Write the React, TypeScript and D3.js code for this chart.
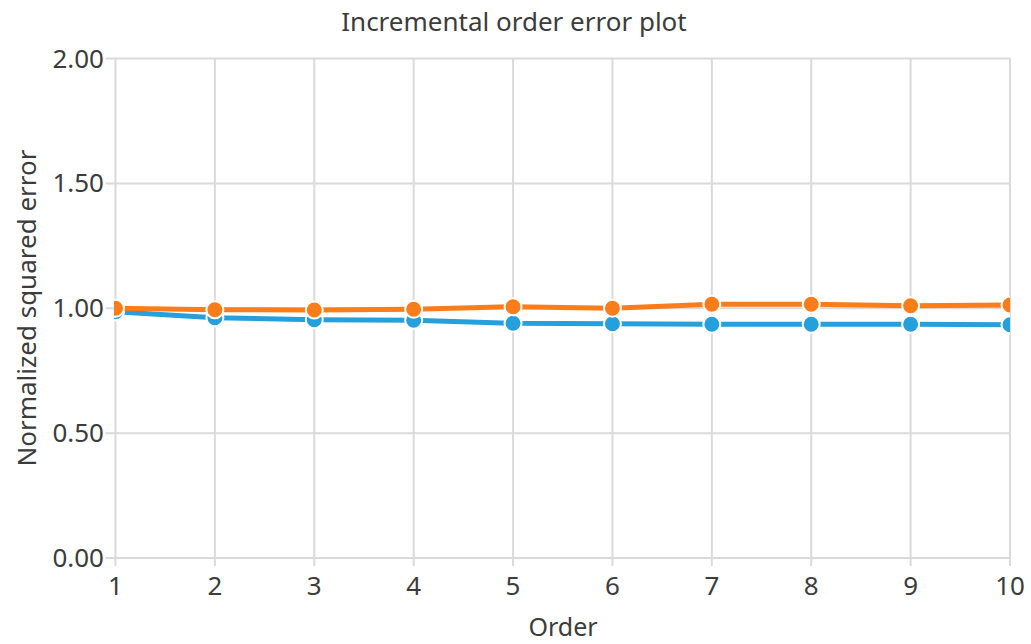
import React from "react";
import * as d3 from "d3";

// Error per model order for the two series
const orders = [1, 2, 3, 4, 5, 6, 7, 8, 9, 10];
const blueErrors = [0.986, 0.962, 0.954, 0.952, 0.94, 0.938, 0.936, 0.936, 0.936, 0.934];
const orangeErrors = [1.0, 0.994, 0.993, 0.996, 1.006, 1.0, 1.016, 1.016, 1.01, 1.013];
const yTicks = [0, 0.5, 1, 1.5, 2];

const W = 1031;
const H = 644;
const FONT = "'Noto Sans', 'Open Sans', sans-serif";
const TEXT = "#3c3c3c";
const GRID = "#dadada";

const m = { left: 115.5, right: 1010, top: 58.5, bottom: 558 };

export default function App() {
  const x = d3.scaleLinear().domain([1, 10]).range([m.left, m.right]);
  const y = d3.scaleLinear().domain([0, 2]).range([m.bottom, m.top]);

  const line = d3
    .line<number>()
    .x((_, i) => x(orders[i]))
    .y((d) => y(d));

  const series = [
    { values: blueErrors, color: "#25a0dc" },
    { values: orangeErrors, color: "#fa7d1a" },
  ];

  return (
    <svg
      width={W}
      height={H}
      style={{ position: "absolute", left: 0, top: 0, background: "#fff" }}
    >
      <defs>
        <clipPath id="plot-clip">
          <rect x={m.left - 1.5} y={m.top - 10} width={m.right - m.left + 1.5} height={m.bottom - m.top + 20} />
        </clipPath>
      </defs>

      <text
        x={514}
        y={31}
        textAnchor="middle"
        fontFamily={FONT}
        fontSize={26}
        fill={TEXT}
      >
        Incremental order error plot
      </text>

      {/* grid and ticks */}
      <g stroke={GRID} strokeWidth={2}>
        {yTicks.map((t) => (
          <line key={"gy" + t} x1={m.left - 10} x2={m.right} y1={y(t)} y2={y(t)} />
        ))}
        {orders.map((o) => (
          <line key={"gx" + o} x1={x(o)} x2={x(o)} y1={m.top} y2={m.bottom + 8} />
        ))}
      </g>

      {/* tick labels */}
      <g fontFamily={FONT} fontSize={26} fill={TEXT}>
        {yTicks.map((t) => (
          <text key={"ly" + t} x={104} y={y(t) + 9} textAnchor="end">
            {d3.format(".2f")(t)}
          </text>
        ))}
        {orders.map((o) => (
          <text key={"lx" + o} x={x(o)} y={595} textAnchor="middle">
            {o}
          </text>
        ))}
      </g>

      <text
        x={563}
        y={636}
        textAnchor="middle"
        fontFamily={FONT}
        fontSize={25}
        fill={TEXT}
      >
        Order
      </text>
      <text
        transform={`translate(36,${308}) rotate(-90)`}
        textAnchor="middle"
        fontFamily={FONT}
        fontSize={26}
        fill={TEXT}
      >
        Normalized squared error
      </text>

      {/* series */}
      <g clipPath="url(#plot-clip)">
        {series.map((s, si) => (
          <g key={si}>
            <path d={line(s.values) || ""} fill="none" stroke={s.color} strokeWidth={5} />
            {s.values.map((v, i) => (
              <circle
                key={i}
                cx={x(orders[i])}
                cy={y(v)}
                r={8.5}
                fill={s.color}
                stroke="#fff"
                strokeWidth={2}
              />
            ))}
          </g>
        ))}
      </g>
    </svg>
  );
}
